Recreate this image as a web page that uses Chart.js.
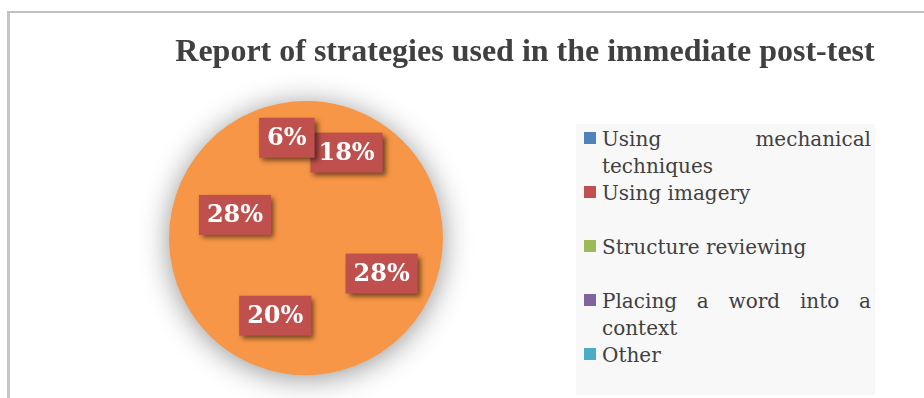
<!DOCTYPE html>
<html>
<head>
<meta charset="utf-8">
<script src="https://cdn.jsdelivr.net/npm/chart.js@4.4.1/dist/chart.umd.min.js"></script>
<style>
  html, body { margin: 0; padding: 0; background: #fff; }
  #wrap { position: relative; width: 924px; height: 398px; overflow: hidden; }
  #frame { position: absolute; left: 7px; top: 11px; width: 940px; height: 400px;
           border-top: 2px solid #c0c0c0; border-left: 3px solid #c6c6c6; }
  #title { position: absolute; left: 100px; top: 32px; width: 850px; height: 36px; line-height: 36px;
           text-align: center; font: bold 32px "Liberation Serif", "Times New Roman", serif; color: #404040; }
  #chartBox { position: absolute; left: 0; top: 0; width: 924px; height: 398px; }
  #legend { position: absolute; left: 576px; top: 124px; width: 299px; height: 271px; background: #f8f8f8;
            box-sizing: border-box; padding: 2px 4px 0 8px; }
  .item { display: flex; min-height: 54px; }
  .swatch { width: 12px; height: 12px; margin-top: 6px; margin-right: 6px; flex: none; }
  .txt { flex: 1; text-align: justify; font: 20px "DejaVu Serif", serif; line-height: 27px; color: #404040; }
</style>
</head>
<body>
<div id="wrap">
  <div id="frame"></div>
  <div id="chartBox"><canvas id="pieChart" width="924" height="398"></canvas></div>
  <div id="title"></div>
  <div id="legend"></div>
</div>
<script>
// chart data
const chartTitle = 'Report of strategies used in the immediate post-test';
const categories = ['Using mechanical techniques', 'Using imagery', 'Structure reviewing',
                    'Placing a word into a context', 'Other'];
const percents = [18, 28, 20, 28, 6];
const legendColors = ['#4f81bd', '#c0504d', '#9bbb59', '#8064a2', '#4bacc6'];

// where each label sits along its slice (fraction of radius, angle nudge in degrees)
const labelRadius = [0.69, 0.61, 0.61, 0.545, 0.745];
const labelNudge = [-7, 0, 0, 0, 0];

document.getElementById('title').textContent = chartTitle;

// legend
const legend = document.getElementById('legend');
categories.forEach((name, i) => {
    const item = document.createElement('div');
    item.className = 'item';
    const sw = document.createElement('div');
    sw.className = 'swatch';
    sw.style.background = legendColors[i];
    const t = document.createElement('div');
    t.className = 'txt';
    t.textContent = name;
    item.appendChild(sw);
    item.appendChild(t);
    legend.appendChild(item);
});

//soft shadow under the pie
const pieShadow = {
    id: 'pieShadow',
    beforeDatasetsDraw(chart) {
        const arc = chart.getDatasetMeta(0).data[0];
        if (!arc) return;
        const ctx = chart.ctx;
        ctx.save();
        ctx.shadowColor = 'rgba(0,0,0,0.45)';
        ctx.shadowBlur = 30;
        ctx.shadowOffsetY = 3;
        ctx.fillStyle = '#f79646';
        ctx.beginPath();
        ctx.arc(arc.x, arc.y, arc.outerRadius - 1, 0, Math.PI * 2);
        ctx.fill();
        ctx.restore();
    }
};

//boxed percent labels
const boxLabels = {
    id: 'boxLabels',
    afterDatasetsDraw(chart) {
        const ctx = chart.ctx;
        const meta = chart.getDatasetMeta(0);
        ctx.save();
        ctx.font = 'bold 24px "DejaVu Serif", serif';
        ctx.textAlign = 'center';
        ctx.textBaseline = 'middle';
        meta.data.forEach((arc, i) => {
            const mid = (arc.startAngle + arc.endAngle) / 2 + labelNudge[i] * Math.PI / 180;
            const r = arc.outerRadius * labelRadius[i];
            const x = arc.x + Math.cos(mid) * r;
            const y = arc.y + Math.sin(mid) * r;
            const text = percents[i] + '%';
            const w = ctx.measureText(text).width + 16;
            const h = 40;
            ctx.save();
            ctx.shadowColor = 'rgba(0,0,0,0.55)';
            ctx.shadowBlur = 5;
            ctx.shadowOffsetX = 3;
            ctx.shadowOffsetY = 3;
            ctx.fillStyle = '#c0504d';
            ctx.fillRect(x - w / 2, y - h / 2, w, h);
            ctx.restore();
            ctx.fillStyle = '#ffffff';
            ctx.fillText(text, x, y + 1);
        });
        ctx.restore();
    }
};

const ctx = document.getElementById('pieChart').getContext('2d');
new Chart(ctx, {
    type: 'pie',
    data: {
        labels: categories,
        datasets: [{
            data: percents,
            backgroundColor: '#f79646',
            borderWidth: 0
        }]
    },
    options: {
        responsive: false,
        animation: false,
        layout: {
            padding: { left: 169, right: 481, top: 101, bottom: 23 }
        },
        plugins: {
            legend: { display: false },
            tooltip: { enabled: false },
            title: { display: false }
        }
    },
    plugins: [pieShadow, boxLabels]
});
</script>
</body>
</html>
